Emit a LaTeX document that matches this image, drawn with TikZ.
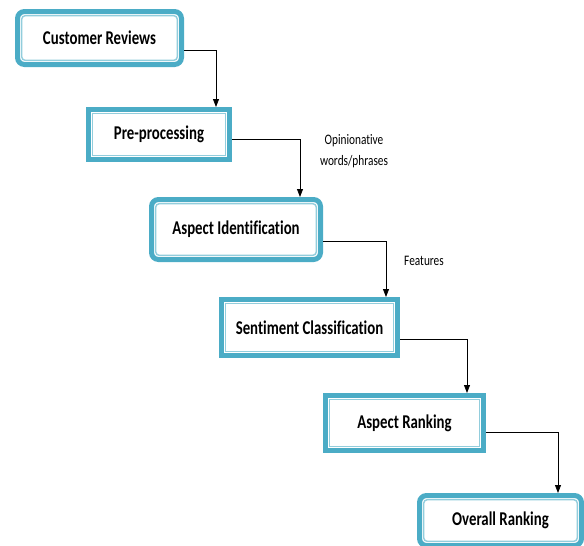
\documentclass[tikz,border=0pt]{standalone}
\usepackage{fontspec}
\usepackage{tikz}
\usetikzlibrary{arrows.meta}
\setmainfont{Carlito}
\newfontfamily\stagefont{Carlito}[FakeStretch=0.76, Ligatures=NoCommon]
\newfontfamily\notefont{Carlito}[FakeStretch=0.78, Ligatures=NoCommon]
\definecolor{boxblue}{RGB}{75,172,198}
\definecolor{boxlight}{RGB}{146,205,220}

\begin{document}
\begin{tikzpicture}[x=1pt, y=-1pt,
    stage/.style={draw=boxblue, line width=5pt, fill=white, rounded corners=#1,
        font=\stagefont\fontsize{19.5}{22}\selectfont\bfseries,
        path picture={\draw[boxlight, line width=1.4pt, rounded corners=#1/2]
            ([shift={(4.2pt,-4.2pt)}]path picture bounding box.north west) rectangle
            ([shift={(-4.2pt,4.2pt)}]path picture bounding box.south east);}},
    stage/.default=0pt,
    flow/.style={-{Triangle[width=6pt,length=8pt]}, line width=0.8pt},
    note/.style={font=\notefont\fontsize{14.5}{21}\selectfont, align=center}]
            % Canvas
            \path[use as bounding box, clip] (0,0) rectangle (584,546);

            % Stages
            \node[stage=7pt, minimum width=164pt, minimum height=53pt] (cust) at (99.5,38) {Customer Reviews};
            \node[stage, minimum width=141pt, minimum height=50pt] (prep) at (159,134.5) {Pre-processing};
            \node[stage=7pt, minimum width=169pt, minimum height=60pt] (aspid) at (236,229.5) {Aspect Identification};
            \node[stage, minimum width=176pt, minimum height=56pt] (senti) at (309.5,327.5) {Sentiment Classification};
            \node[stage, minimum width=158pt, minimum height=55pt] (asprank) at (404.5,423) {Aspect Ranking};
            \node[stage=7pt, minimum width=162pt, minimum height=50pt] (overall) at (500.5,520.5) {Overall Ranking};

            % Flow between stages
            \draw[flow] ([yshift=-12pt]cust.east) -| ([xshift=-16pt]prep.north east);
            \draw[flow] ([yshift=-4.5pt]prep.east) -| ([xshift=-23pt]aspid.north east);
            \draw[flow] ([yshift=-11.5pt]aspid.east) -| ([xshift=-14pt]senti.north east);
            \draw[flow] ([yshift=-11.5pt]senti.east) -| ([xshift=-19pt]asprank.north east);
            \draw[flow] ([yshift=-9pt]asprank.east) -| ([xshift=-26pt]overall.north east);

            % Labels
            \node[note] (opin) at (354,151) {Opinionative\\words/phrases};
            \node[note] (feat) at (424,261) {Features};
\end{tikzpicture}
\end{document}
